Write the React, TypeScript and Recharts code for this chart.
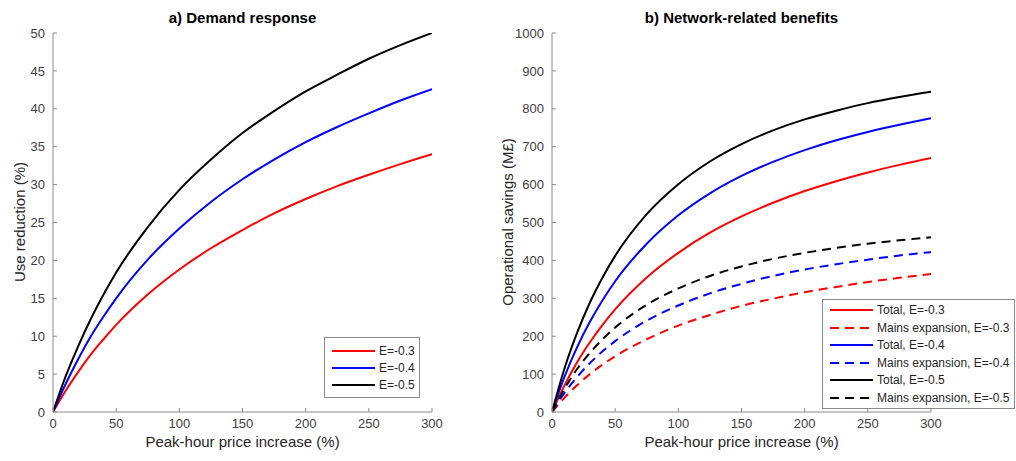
import React from 'react';
import { LineChart, Line, XAxis, YAxis, Legend } from 'recharts';

// peak-hour price increase (%), shared by both panels
const priceIncrease = [0, 10, 20, 30, 40, 50, 75, 100, 125, 150, 175, 200, 225, 250, 275, 300];
const priceTicks = [0, 50, 100, 150, 200, 250, 300];

// a) use reduction (%)
const useReductionE03 = [0, 2.8, 5.3, 7.6, 9.6, 11.5, 15.5, 18.8, 21.6, 24.0, 26.2, 28.1, 29.8, 31.3, 32.7, 34.0];
const useReductionE04 = [0, 3.7, 7.0, 10.0, 12.6, 15.0, 20.1, 24.2, 27.7, 30.7, 33.3, 35.6, 37.6, 39.4, 41.1, 42.6];
const useReductionE05 = [0, 4.7, 8.7, 12.3, 15.5, 18.4, 24.4, 29.3, 33.3, 36.8, 39.7, 42.3, 44.5, 46.6, 48.4, 50.0];
const reductionTicks = [0, 5, 10, 15, 20, 25, 30, 35, 40, 45, 50];

// b) operational savings (M£)
const totalE03 = [0, 71, 132, 184, 230, 271, 355, 420, 473, 516, 552, 583, 609, 632, 652, 670];
const mainsE03 = [0, 38, 71, 100, 125, 147, 192, 228, 256, 280, 299, 316, 330, 343, 354, 364];
const totalE04 = [0, 94, 172, 238, 295, 345, 444, 519, 577, 623, 660, 691, 717, 739, 758, 775];
const mainsE04 = [0, 51, 93, 129, 160, 187, 241, 281, 313, 338, 359, 376, 390, 402, 413, 422];
const totalE05 = [0, 116, 210, 289, 355, 412, 522, 601, 661, 707, 743, 772, 795, 815, 831, 845];
const mainsE05 = [0, 62, 114, 156, 192, 223, 283, 326, 359, 384, 404, 420, 433, 444, 453, 461];
const savingsTicks = [0, 100, 200, 300, 400, 500, 600, 700, 800, 900, 1000];

const FONT = '"Liberation Sans", Arial, Helvetica, sans-serif';
const AXIS = '#8a8a8a';
const TEXT = '#404040';
const DASH = '9 6';

const demandSeries = [
  { key: 'e03', name: 'E=-0.3', color: '#ff0000', values: useReductionE03 },
  { key: 'e04', name: 'E=-0.4', color: '#0000ff', values: useReductionE04 },
  { key: 'e05', name: 'E=-0.5', color: '#000000', values: useReductionE05 },
];

const networkSeries = [
  { key: 'tot03', name: 'Total, E=-0.3', color: '#ff0000', values: totalE03 },
  { key: 'mains03', name: 'Mains expansion, E=-0.3', color: '#ff0000', dash: DASH, values: mainsE03 },
  { key: 'tot04', name: 'Total, E=-0.4', color: '#0000ff', values: totalE04 },
  { key: 'mains04', name: 'Mains expansion, E=-0.4', color: '#0000ff', dash: DASH, values: mainsE04 },
  { key: 'tot05', name: 'Total, E=-0.5', color: '#000000', values: totalE05 },
  { key: 'mains05', name: 'Mains expansion, E=-0.5', color: '#000000', dash: DASH, values: mainsE05 },
];

const buildRows = series =>
  priceIncrease.map((x, i) => {
    const row = { x };
    series.forEach(s => {
      row[s.key] = s.values[i];
    });
    return row;
  });

const demandData = buildRows(demandSeries);
const networkData = buildRows(networkSeries);

const LegendBox = ({ series, width, rowHeight, padTop }) => (
  <div
    style={{
      width,
      boxSizing: 'border-box',
      border: `1px solid ${AXIS}`,
      background: '#fff',
      padding: `${padTop}px 0`,
      fontFamily: FONT,
      fontSize: 12,
      color: '#262626',
    }}
  >
    {series.map(s => (
      <div key={s.key} style={{ display: 'flex', alignItems: 'center', height: rowHeight, whiteSpace: 'nowrap' }}>
        <svg width={51} height={10} style={{ flex: 'none' }}>
          <line x1={7} x2={50} y1={5} y2={5} stroke={s.color} strokeWidth={2} strokeDasharray={s.dash} />
        </svg>
        <span style={{ marginLeft: 3 }}>{s.name}</span>
      </div>
    ))}
  </div>
);

const TextAt = ({ x, y, children, bold = false, rotate = false, size = 15 }) => (
  <div
    style={{
      position: 'absolute',
      left: x,
      top: y,
      transform: `translate(-50%, -50%)${rotate ? ' rotate(-90deg)' : ''}`,
      whiteSpace: 'nowrap',
      fontFamily: FONT,
      fontSize: size,
      fontWeight: bold ? 'bold' : 'normal',
      color: bold ? '#000' : '#262626',
    }}
  >
    {children}
  </div>
);

const axisProps = {
  stroke: AXIS,
  tick: { fill: TEXT, fontSize: 13 },
  tickSize: -4,
  allowDataOverflow: true,
};

export default function App() {
  return (
    <div style={{ position: 'absolute', left: 0, top: 0, width: 1016, height: 461, background: '#fff', fontFamily: FONT }}>
      <div style={{ position: 'absolute', left: 0, top: 0 }}>
        <LineChart width={460} height={461} data={demandData} margin={{ top: 33, right: 28, bottom: 19, left: 23 }}>
          <XAxis {...axisProps} dataKey="x" type="number" domain={[0, 300]} ticks={priceTicks} height={30} tickMargin={11} />
          <YAxis {...axisProps} type="number" domain={[0, 50]} ticks={reductionTicks} width={30} tickMargin={12} />
          {demandSeries.map(s => (
            <Line
              key={s.key}
              dataKey={s.key}
              name={s.name}
              type="monotone"
              stroke={s.color}
              strokeWidth={2}
              dot={false}
              isAnimationActive={false}
            />
          ))}
          <Legend
            layout="vertical"
            align="center"
            verticalAlign="middle"
            wrapperStyle={{ left: 324, top: 337, width: 'auto' }}
            content={() => <LegendBox series={demandSeries} width={96} rowHeight={17} padTop={4} />}
          />
        </LineChart>
      </div>

      <div style={{ position: 'absolute', left: 499, top: 0 }}>
        <LineChart width={517} height={461} data={networkData} margin={{ top: 33, right: 85, bottom: 19, left: 23 }}>
          <XAxis {...axisProps} dataKey="x" type="number" domain={[0, 300]} ticks={priceTicks} height={30} tickMargin={11} />
          <YAxis {...axisProps} type="number" domain={[0, 1000]} ticks={savingsTicks} width={30} tickMargin={12} />
          {networkSeries.map(s => (
            <Line
              key={s.key}
              dataKey={s.key}
              name={s.name}
              type="monotone"
              stroke={s.color}
              strokeWidth={2}
              strokeDasharray={s.dash}
              dot={false}
              isAnimationActive={false}
            />
          ))}
          <Legend
            layout="vertical"
            align="center"
            verticalAlign="middle"
            wrapperStyle={{ left: 323, top: 299, width: 'auto' }}
            content={() => <LegendBox series={networkSeries} width={193} rowHeight={17.5} padTop={1.5} />}
          />
        </LineChart>
      </div>

      <TextAt x={242.5} y={17} bold>a) Demand response</TextAt>
      <TextAt x={741.5} y={17} bold>b) Network-related benefits</TextAt>
      <TextAt x={242.5} y={441}>Peak-hour price increase (%)</TextAt>
      <TextAt x={741.5} y={441}>Peak-hour price increase (%)</TextAt>
      <TextAt x={19} y={222} rotate>Use reduction (%)</TextAt>
      <TextAt x={507} y={222} rotate>Operational savings (M£)</TextAt>
    </div>
  );
}
